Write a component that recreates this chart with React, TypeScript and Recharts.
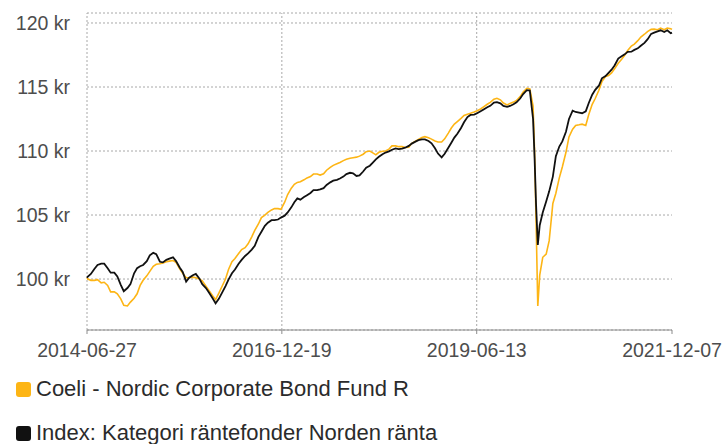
import { LineChart, Line, XAxis, YAxis, CartesianGrid, ReferenceLine } from 'recharts';

// semi-monthly samples
const dates = [
  '2014-06-27', '2014-07-01', '2014-07-15', '2014-08-01', '2014-08-15', '2014-09-01', '2014-09-15',
  '2014-10-01', '2014-10-15', '2014-11-01', '2014-11-15', '2014-12-01', '2014-12-15',
  '2015-01-01', '2015-01-15', '2015-02-01', '2015-02-15', '2015-03-01', '2015-03-15', '2015-04-01', '2015-04-15',
  '2015-05-01', '2015-05-15', '2015-06-01', '2015-06-15', '2015-07-01', '2015-07-15', '2015-08-01', '2015-08-15',
  '2015-09-01', '2015-09-15', '2015-10-01', '2015-10-15', '2015-11-01', '2015-11-15', '2015-12-01', '2015-12-15',
  '2016-01-01', '2016-01-15', '2016-02-01', '2016-02-15', '2016-03-01', '2016-03-15', '2016-04-01', '2016-04-15',
  '2016-05-01', '2016-05-15', '2016-06-01', '2016-06-15', '2016-07-01', '2016-07-15', '2016-08-01', '2016-08-15',
  '2016-09-01', '2016-09-15', '2016-10-01', '2016-10-15', '2016-11-01', '2016-11-15', '2016-12-01', '2016-12-15',
  '2017-01-01', '2017-01-15', '2017-02-01', '2017-02-15', '2017-03-01', '2017-03-15', '2017-04-01', '2017-04-15',
  '2017-05-01', '2017-05-15', '2017-06-01', '2017-06-15', '2017-07-01', '2017-07-15', '2017-08-01', '2017-08-15',
  '2017-09-01', '2017-09-15', '2017-10-01', '2017-10-15', '2017-11-01', '2017-11-15', '2017-12-01', '2017-12-15',
  '2018-01-01', '2018-01-15', '2018-02-01', '2018-02-15', '2018-03-01', '2018-03-15', '2018-04-01', '2018-04-15',
  '2018-05-01', '2018-05-15', '2018-06-01', '2018-06-15', '2018-07-01', '2018-07-15', '2018-08-01', '2018-08-15',
  '2018-09-01', '2018-09-15', '2018-10-01', '2018-10-15', '2018-11-01', '2018-11-15', '2018-12-01', '2018-12-15',
  '2019-01-01', '2019-01-15', '2019-02-01', '2019-02-15', '2019-03-01', '2019-03-15', '2019-04-01', '2019-04-15',
  '2019-05-01', '2019-05-15', '2019-06-01', '2019-06-15', '2019-07-01', '2019-07-15', '2019-08-01', '2019-08-15',
  '2019-09-01', '2019-09-15', '2019-10-01', '2019-10-15', '2019-11-01', '2019-11-15', '2019-12-01', '2019-12-15',
  '2020-01-01', '2020-01-15', '2020-02-01', '2020-02-15', '2020-03-01', '2020-03-08', '2020-03-15', '2020-03-23',
  '2020-04-01', '2020-04-15', '2020-05-01', '2020-05-15', '2020-06-01', '2020-06-15', '2020-07-01', '2020-07-15',
  '2020-08-01', '2020-08-15', '2020-09-01', '2020-09-15', '2020-10-01', '2020-10-15', '2020-11-01', '2020-11-15',
  '2020-12-01', '2020-12-15',
  '2021-01-01', '2021-01-15', '2021-02-01', '2021-02-15', '2021-03-01', '2021-03-15', '2021-04-01', '2021-04-15',
  '2021-05-01', '2021-05-15', '2021-06-01', '2021-06-15', '2021-07-01', '2021-07-15', '2021-08-01', '2021-08-15',
  '2021-09-01', '2021-09-15', '2021-10-01', '2021-10-15', '2021-11-01', '2021-11-15', '2021-12-01', '2021-12-07',
];

const fundValues = [
  100.1, 100.0, 99.9, 99.9, 99.95, 99.7, 99.75, 99.5, 99.0, 99.0, 98.85, 98.45, 97.95,
  97.9, 98.2, 98.5, 98.85, 99.5, 99.9, 100.25, 100.6, 101.0, 101.15, 101.2, 101.25,
  101.35, 101.4, 101.45, 101.3, 100.8, 100.45, 100.1, 100.1, 100.15, 100.1, 100.0, 99.85,
  99.45, 99.1, 98.7, 98.4, 98.9, 99.4, 100.0, 100.75, 101.35, 101.6, 102.0, 102.3,
  102.45, 102.75, 103.3, 103.8, 104.3, 104.8, 105.0, 105.2, 105.4, 105.5, 105.5, 105.45,
  106.0, 106.6, 107.1, 107.4, 107.55, 107.6, 107.75, 107.9, 108.0, 108.2, 108.2, 108.12,
  108.22, 108.5, 108.72, 108.88, 109.0, 109.1, 109.25, 109.35, 109.43, 109.47, 109.52, 109.6,
  109.75, 109.95, 110.0, 109.85, 109.7, 109.9, 109.98, 110.0, 110.15, 110.4, 110.4, 110.34,
  110.34, 110.28, 110.3, 110.6, 110.76, 110.9, 111.05, 111.12, 111.03, 110.93, 110.78, 110.7,
  110.7, 110.95, 111.4, 111.8, 112.1, 112.3, 112.55, 112.78, 112.88, 112.95, 113.05, 113.15,
  113.28, 113.45, 113.65, 113.8, 114.05, 114.12, 114.0, 113.75, 113.6, 113.72, 113.82, 113.95,
  114.25, 114.6, 114.9, 114.85, 113.5, 110.0, 104.5, 97.9, 100.3, 101.7, 101.95, 103.0,
  105.9, 106.7, 107.9, 108.75, 109.9, 111.1, 111.7, 112.0, 112.05, 112.1, 112.0, 112.85,
  113.65, 114.1,
  114.75, 115.42, 115.82, 115.9, 116.1, 116.42, 116.85, 117.12, 117.48, 117.85, 118.2, 118.35,
  118.62, 118.9, 119.12, 119.33, 119.5, 119.52, 119.47, 119.6, 119.47, 119.6, 119.55, 119.5,
];

const indexValues = [
  100.1, 100.2, 100.4, 100.8, 101.1, 101.2, 101.2, 100.85, 100.5, 100.5, 100.2, 99.55, 99.05,
  99.3, 99.6, 100.45, 100.85, 101.0, 101.1, 101.4, 101.85, 102.05, 101.95, 101.35, 101.3,
  101.5, 101.6, 101.7, 101.4, 100.9, 100.55, 99.8, 100.1, 100.3, 100.4, 100.05, 99.6,
  99.3, 98.95, 98.5, 98.1, 98.45, 98.9, 99.45, 99.95, 100.45, 100.75, 101.2, 101.5,
  101.8, 102.0, 102.3, 102.6, 103.3, 103.7, 104.15, 104.4, 104.6, 104.6, 104.65, 104.8,
  104.95, 105.2, 105.6, 106.0, 106.3, 106.2, 106.4, 106.55, 106.72, 106.95, 106.95, 107.0,
  107.1, 107.35, 107.55, 107.68, 107.75, 107.85, 108.0, 108.2, 108.3, 108.26, 108.05, 108.1,
  108.4, 108.7, 108.85, 109.1, 109.35, 109.55, 109.75, 109.88, 109.97, 110.1, 110.2, 110.15,
  110.18, 110.26, 110.4, 110.58, 110.73, 110.85, 110.91, 110.91, 110.78, 110.6, 110.22, 109.8,
  109.5, 109.78, 110.25, 110.65, 111.05, 111.35, 111.8, 112.25, 112.65, 112.82, 112.85, 112.95,
  113.1, 113.25, 113.42, 113.53, 113.78, 113.82, 113.72, 113.52, 113.45, 113.52, 113.65, 113.8,
  114.1, 114.45, 114.75, 114.72, 112.5, 109.5, 105.8, 102.66, 104.2, 105.2, 106.05, 106.85,
  108.0, 109.6, 110.35, 110.75, 111.5, 112.5, 113.15, 113.05, 113.0, 112.95, 113.1, 113.75,
  114.4, 114.78,
  115.1, 115.68, 115.85, 116.1, 116.35, 116.68, 117.22, 117.38, 117.55, 117.74, 117.76, 117.9,
  118.02, 118.22, 118.45, 118.72, 119.15, 119.25, 119.35, 119.43, 119.3, 119.43, 119.2, 119.25,
];

const xTickDates = ['2014-06-27', '2016-12-19', '2019-06-13', '2021-12-07'];
const yTicks = [100, 105, 110, 115, 120];

const seriesInfo = [
  { key: 'fund', name: 'Coeli - Nordic Corporate Bond Fund R', color: '#fdb515', width: 1.6 },
  { key: 'index', name: 'Index: Kategori räntefonder Norden ränta', color: '#111111', width: 1.8 },
];

const FONT = "'Liberation Sans', Arial, sans-serif";
const GRID = '#a8a8a8';

const data = dates.map((d, i) => ({
  t: Date.parse(d),
  fund: fundValues[i],
  index: indexValues[i],
}));

const xTicks = xTickDates.map((d) => Date.parse(d));
const fmtDate = (t: number) => new Date(t).toISOString().slice(0, 10);

export default function App() {
  return (
    <div
      style={{
        position: 'absolute',
        left: 0,
        top: 0,
        width: 726,
        height: 444,
        background: '#fff',
        fontFamily: FONT,
        overflow: 'hidden',
      }}
    >
      <LineChart
        width={726}
        height={370}
        data={data}
        margin={{ top: 13, right: 54, left: 0, bottom: 0 }}
      >
        <CartesianGrid vertical={false} stroke={GRID} strokeDasharray='2 2' />
        {/* vertical grid only at the first three date ticks */}
        {xTicks.slice(0, 3).map((t) => (
          <ReferenceLine key={t} x={t} stroke={GRID} strokeDasharray='2 2' />
        ))}
        <XAxis
          dataKey='t'
          type='number'
          scale='time'
          domain={[xTicks[0], xTicks[3]]}
          ticks={xTicks}
          interval={0}
          tickFormatter={fmtDate}
          height={40}
          tickSize={4}
          tickMargin={9}
          stroke='#8c8c8c'
          tick={{ fill: '#4d4d4d', fontSize: 19.5, fontFamily: FONT }}
        />
        <YAxis
          width={87}
          domain={[96.02, 120.78]}
          ticks={yTicks}
          allowDataOverflow
          tickFormatter={(v: number) => `${v} kr`}
          axisLine={false}
          tickLine={false}
          tickMargin={11}
          tick={{ fill: '#4d4d4d', fontSize: 19.5, fontFamily: FONT }}
        />
        {seriesInfo.map((s) => (
          <Line
            key={s.key}
            dataKey={s.key}
            name={s.name}
            type='linear'
            stroke={s.color}
            strokeWidth={s.width}
            dot={false}
            activeDot={false}
            isAnimationActive={false}
          />
        ))}
      </LineChart>
      <div style={{ position: 'absolute', left: 16, top: 367 }}>
        {seriesInfo.map((s) => (
          <div
            key={s.key}
            style={{ display: 'flex', alignItems: 'center', height: 44 }}
          >
            <span
              style={{
                width: 15,
                height: 15,
                borderRadius: 3,
                background: s.color,
                marginRight: 5,
                display: 'inline-block',
              }}
            />
            <span style={{ fontSize: 22, lineHeight: '24px', color: '#2b2b2b' }}>{s.name}</span>
          </div>
        ))}
      </div>
    </div>
  );
}
